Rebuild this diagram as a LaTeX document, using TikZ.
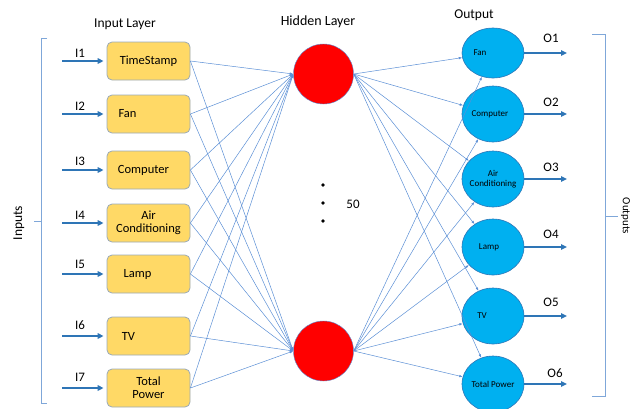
\documentclass[tikz,border=0pt]{standalone}
\usepackage{fontspec}
\setmainfont{Carlito}
\usetikzlibrary{arrows.meta,shapes.geometric}
\definecolor{boxfill}{HTML}{FFD966}
\definecolor{boxline}{HTML}{9AAAB8}
\definecolor{outfill}{HTML}{00B0F0}
\definecolor{outline}{HTML}{2E75B6}
\definecolor{arrowblue}{HTML}{2E75B6}
\definecolor{linkblue}{HTML}{5B8FD5}
\definecolor{brackblue}{HTML}{7FA7D9}
\begin{document}
\begin{tikzpicture}[x=1pt,y=-1pt,
  inbox/.style={draw=boxline,line width=0.8pt,fill=boxfill,rounded corners=5pt,
    minimum width=83pt,minimum height=38pt,align=center,font=\fontsize{12.5}{13}\selectfont,inner sep=1pt},
  hidnode/.style={circle,fill=red,draw=linkblue,line width=0.4pt,minimum size=60pt,inner sep=0pt},
  outnode/.style={ellipse,fill=outfill,draw=outline,line width=0.6pt,minimum width=62pt,minimum height=56pt,inner sep=0pt},
  outtext/.style={font=\fontsize{9}{10}\selectfont,align=center,inner sep=0pt},
  fatarrow/.style={draw=arrowblue,line width=1.7pt,-{Triangle[length=6pt,width=5.5pt]}},
  link/.style={draw=linkblue,line width=0.5pt,-{Latex[length=3.5pt,width=2.5pt]}},
  iolabel/.style={font=\fontsize{13}{14}\selectfont,inner sep=0pt},
  title/.style={font=\fontsize{13.5}{14}\selectfont,inner sep=0pt},
  bracket/.style={draw=brackblue,line width=0.8pt},
  dotmark/.style={circle,fill=black,inner sep=0pt,minimum size=3.6pt}
]
\useasboundingbox (0,0) rectangle (632,408);

% titles
\node[title] (tin) at (125,24) {Input Layer};
\node[title,font=\fontsize{14}{15}\selectfont] (thid) at (318,22) {Hidden Layer};
\node[title] (tout) at (474,15) {Output};

% input boxes
\node[inbox] (i1) at (148.5,61) {TimeStamp};
\node[inbox] (i2) at (148.5,114) {Fan\hspace*{42pt}};
\node[inbox] (i3) at (148.5,170) {Computer\hspace*{10pt}};
\node[inbox] (i4) at (148.5,223) {Air\\Conditioning};
\node[inbox] (i5) at (148.5,274) {Lamp\hspace*{22pt}};
\node[inbox] (i6) at (148.5,336) {TV\hspace*{40pt}};
\node[inbox] (i7) at (148.5,388) {Total\\Power};

% input arrows
\foreach \k/\y in {1/61,2/114,3/170,4/223,5/274,6/336,7/388}{
  \coordinate (a\k) at (62,\y);
  \draw[fatarrow,shorten >=3pt] (a\k) -- (i\k);
}
\node[iolabel] (l1) at (80,53) {I1};
\node[iolabel] (l2) at (80,106) {I2};
\node[iolabel] (l3) at (80,161) {I3};
\node[iolabel] (l4) at (80,215) {I4};
\node[iolabel] (l5) at (80,264) {I5};
\node[iolabel] (l6) at (80,325) {I6};
\node[iolabel] (l7) at (80,377) {I7};

% hidden layer
\node[hidnode] (h1) at (323.5,74) {};
\node[hidnode] (h2) at (323.5,351) {};
\node[dotmark] (d1) at (323,185) {};
\node[dotmark] (d2) at (323,203) {};
\node[dotmark] (d3) at (323,221) {};
\node[font=\fontsize{13}{14}\selectfont] (n50) at (353,204) {50};

% output nodes
\node[outnode,minimum height=50pt,label={[outtext,xshift=-13pt]center:Fan}] (o1) at (493,53) {};
\node[outnode,label={[outtext,xshift=-3pt]center:Computer}] (o2) at (493,114) {};
\node[outnode,label={[outtext]center:Air\\Conditioning}] (o3) at (493,179) {};
\node[outnode,label={[outtext,xshift=-4pt]center:Lamp}] (o4) at (493,247) {};
\node[outnode,label={[outtext,xshift=-11pt]center:TV}] (o5) at (493,316) {};
\node[outnode,label={[outtext]center:Total Power}] (o6) at (493,384) {};

% output arrows
\foreach \k/\y in {1/53,2/114,3/179,4/247,5/316,6/384}{
  \coordinate (b\k) at (567,\y);
  \draw[fatarrow] (o\k.east) -- (b\k);
}
\node[iolabel] (m1) at (551,38) {O1};
\node[iolabel] (m2) at (551,102) {O2};
\node[iolabel] (m3) at (551,167) {O3};
\node[iolabel] (m4) at (551,234) {O4};
\node[iolabel] (m5) at (551,302) {O5};
\node[iolabel] (m6) at (555,373) {O6};

% connections input -> hidden
\foreach \k in {1,...,7}{
  \draw[link] (i\k.east) -- (h1.west);
  \draw[link] (i\k.east) -- (h2.west);
}
% connections hidden -> output
\foreach \k in {1,...,6}{
  \draw[link] (h1.east) -- (o\k);
  \draw[link] (h2.east) -- (o\k);
}

% brackets
\coordinate (lb1) at (47,38);
\coordinate (lb2) at (41,38);
\coordinate (lb3) at (41,403);
\coordinate (lb4) at (47,403);
\coordinate (lbm) at (41,221);
\coordinate (lbt) at (34,221);
\draw[bracket] (lb1) -- (lb2) -- (lb3) -- (lb4);
\draw[bracket] (lbm) -- (lbt);
\node[title,rotate=90] (tinputs) at (19,223) {Inputs};

\coordinate (rb1) at (592,34);
\coordinate (rb2) at (605,34);
\coordinate (rb3) at (605,396);
\coordinate (rb4) at (592,396);
\coordinate (rbm) at (605,216);
\coordinate (rbt) at (618,216);
\draw[bracket] (rb1) -- (rb2) -- (rb3) -- (rb4);
\draw[bracket] (rbm) -- (rbt);
\node[title,font=\fontsize{11}{12}\selectfont,rotate=-90] (toutputs) at (625.5,216) {Outputs};
\end{tikzpicture}
\end{document}
